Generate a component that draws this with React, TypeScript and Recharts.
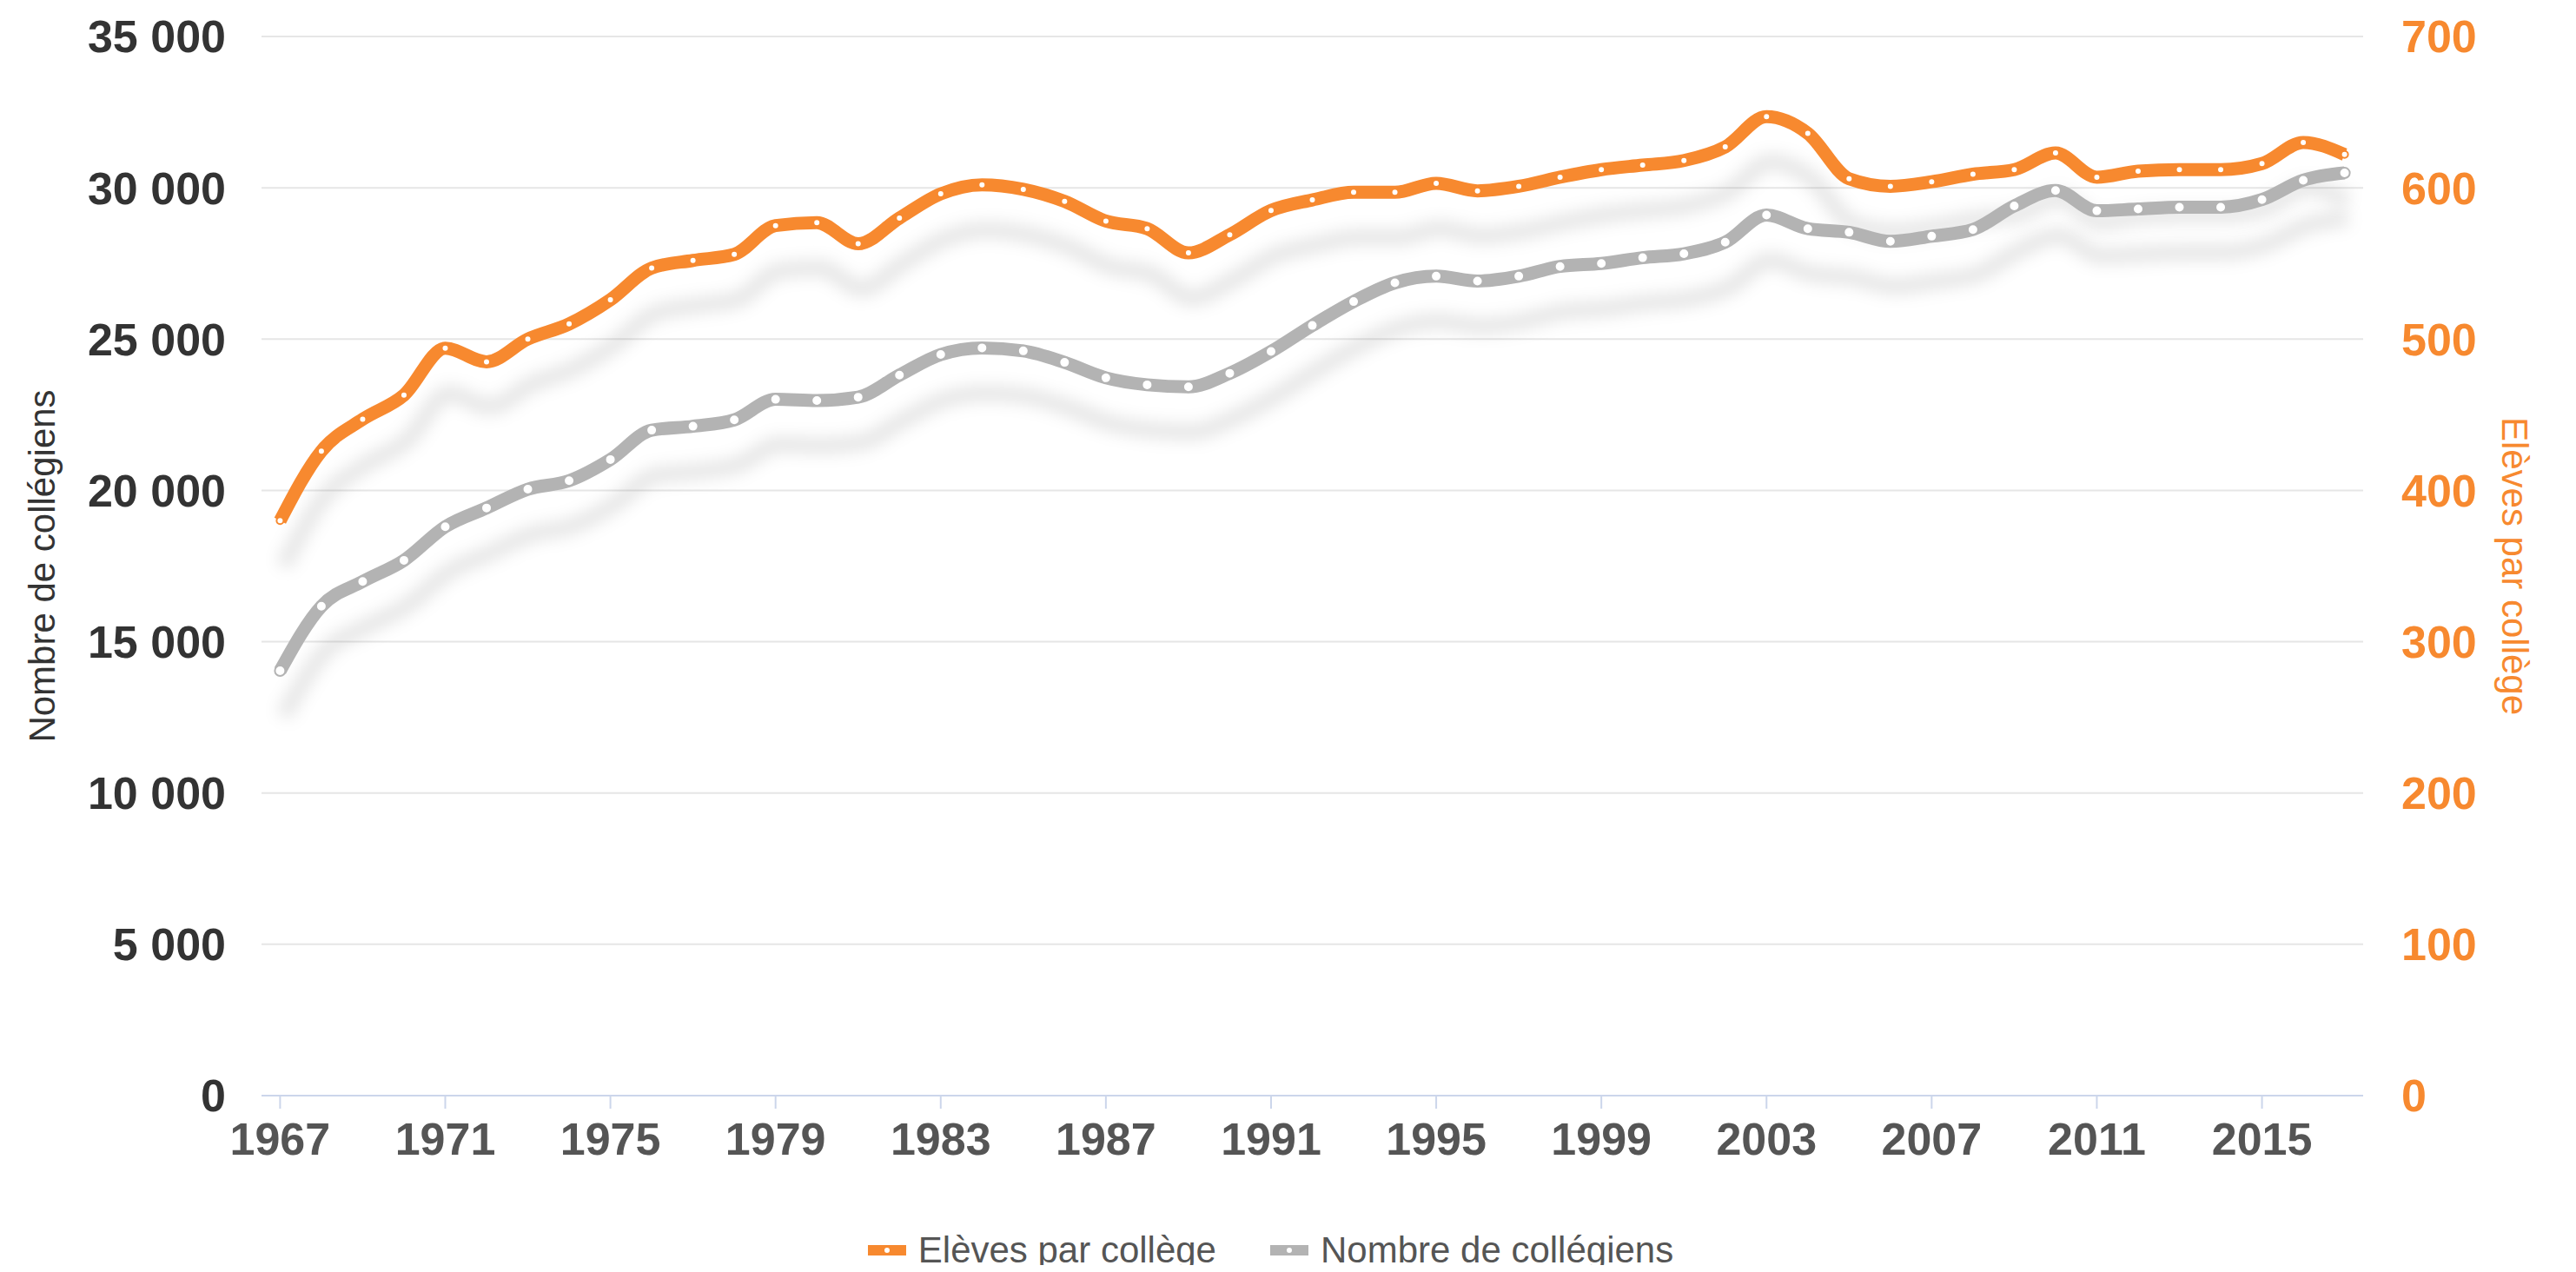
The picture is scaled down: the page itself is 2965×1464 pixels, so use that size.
import { LineChart, Line, XAxis, YAxis, CartesianGrid, Legend } from 'recharts';

const years = [
  1967, 1968, 1969, 1970, 1971, 1972, 1973, 1974, 1975, 1976, 1977, 1978, 1979,
  1980, 1981, 1982, 1983, 1984, 1985, 1986, 1987, 1988, 1989, 1990, 1991, 1992,
  1993, 1994, 1995, 1996, 1997, 1998, 1999, 2000, 2001, 2002, 2003, 2004, 2005,
  2006, 2007, 2008, 2009, 2010, 2011, 2012, 2013, 2014, 2015, 2016, 2017,
];

// Elèves par collège (axe de droite)
const elevesParCollege = [
  380, 426, 447, 463, 494, 485, 500, 510, 526, 547, 552, 556, 575,
  577, 563, 580, 596, 602, 599, 591, 578, 573, 557, 569, 585, 592,
  597, 597, 603, 598, 601, 607, 612, 615, 618, 627, 647, 636, 606,
  601, 604, 609, 612, 623, 607, 611, 612, 612, 616, 630, 622,
];

// Nombre de collégiens (axe de gauche)
const nombreCollegiens = [
  14040, 16170, 16990, 17690, 18800, 19420, 20040, 20320, 21020, 21990, 22120, 22330, 23010,
  22970, 23080, 23810, 24490, 24710, 24610, 24230, 23720, 23490, 23420, 23870, 24590, 25450,
  26240, 26860, 27080, 26920, 27080, 27400, 27500, 27690, 27820, 28200, 29100, 28650, 28530,
  28230, 28400, 28620, 29400, 29910, 29240, 29300, 29360, 29360, 29610, 30250, 30490,
];

const yearTicks = [1967, 1971, 1975, 1979, 1983, 1987, 1991, 1995, 1999, 2003, 2007, 2011, 2015];
const leftTicks = [0, 5000, 10000, 15000, 20000, 25000, 30000, 35000];
const leftTickLabels = ['0', '5 000', '10 000', '15 000', '20 000', '25 000', '30 000', '35 000'];
const rightTicks = [0, 100, 200, 300, 400, 500, 600, 700];

const legendNames = ['Elèves par collège', 'Nombre de collégiens'];

const ORANGE = '#f7892f';
const GREY = '#b3b3b3';
const FONT = '"Liberation Sans", Arial, Helvetica, sans-serif';

const data = years.map((year, i) => ({
  year,
  eleves: elevesParCollege[i],
  collegiens: nombreCollegiens[i],
}));

function LeftTitle(props: any) {
  const vb = props.viewBox;
  const cx = vb.x + 40;
  const cy = vb.y + vb.height / 2;
  return (
    <text
      x={cx}
      y={cy}
      transform={`rotate(-90, ${cx}, ${cy})`}
      textAnchor="middle"
      dominantBaseline="central"
      fontFamily={FONT}
      fontSize={42}
      fill="#333"
    >
      Nombre de collégiens
    </text>
  );
}

function RightTitle(props: any) {
  const vb = props.viewBox;
  const cx = vb.x + 174;
  const cy = vb.y + vb.height / 2;
  return (
    <text
      x={cx}
      y={cy}
      transform={`rotate(90, ${cx}, ${cy})`}
      textAnchor="middle"
      dominantBaseline="central"
      fontFamily={FONT}
      fontSize={42}
      fill={ORANGE}
    >
      Elèves par collège
    </text>
  );
}

function LegendContent() {
  const colors = [ORANGE, GREY];
  return (
    <div
      style={{
        display: 'flex',
        justifyContent: 'center',
        alignItems: 'center',
        height: 34,
        fontFamily: FONT,
        fontSize: 42,
        color: '#555',
        paddingRight: 20,
      }}
    >
      {legendNames.map((name, i) => (
        <div key={name} style={{ display: 'flex', alignItems: 'center', marginLeft: i > 0 ? 62 : 0 }}>
          <svg width={44} height={20} style={{ marginRight: 14 }}>
            <line x1={0} y1={10} x2={44} y2={10} stroke={colors[i]} strokeWidth={12} />
            <circle cx={22} cy={10} r={4} fill="#fff" stroke={colors[i]} strokeWidth={2} />
          </svg>
          <span style={{ lineHeight: '34px' }}>{name}</span>
        </div>
      ))}
    </div>
  );
}

export default function App() {
  return (
    <LineChart
      width={2949}
      height={1448}
      data={data}
      margin={{ top: 34, right: 20, bottom: 0, left: 0 }}
    >
      <defs>
        <filter id="lineShadow" filterUnits="userSpaceOnUse" x="0" y="0" width="2949" height="1448">
          <feGaussianBlur stdDeviation="9" />
          <feOffset dx="4" dy="52" />
        </filter>
      </defs>
      <CartesianGrid yAxisId="left" vertical={false} stroke="#e6e6e6" strokeWidth={2} />
      <XAxis
        dataKey="year"
        type="number"
        domain={[1966.55, 2017.45]}
        ticks={yearTicks}
        allowDataOverflow
        height={161}
        tickSize={15}
        tickMargin={16}
        axisLine={{ stroke: '#ccd6eb', strokeWidth: 2 }}
        tickLine={{ stroke: '#ccd6eb', strokeWidth: 2 }}
        tick={{ fill: '#555', fontSize: 52, fontWeight: 700, fontFamily: FONT }}
      />
      <YAxis
        yAxisId="left"
        domain={[0, 35000]}
        ticks={leftTicks}
        width={293}
        tickSize={0}
        tickMargin={41}
        axisLine={false}
        tickLine={false}
        tickFormatter={(v: number) => leftTickLabels[leftTicks.indexOf(v)]}
        tick={{ fill: '#333', fontSize: 52, fontWeight: 700, fontFamily: FONT }}
        label={LeftTitle}
      />
      <YAxis
        yAxisId="right"
        orientation="right"
        domain={[0, 700]}
        ticks={rightTicks}
        width={217}
        tickSize={0}
        tickMargin={44}
        axisLine={false}
        tickLine={false}
        tick={{ fill: ORANGE, fontSize: 52, fontWeight: 700, fontFamily: FONT }}
        label={RightTitle}
      />
      <Legend verticalAlign="bottom" height={34} content={LegendContent} />
      <Line
        yAxisId="right"
        dataKey="eleves"
        type="monotone"
        stroke="#000"
        strokeOpacity={0.1}
        strokeWidth={18}
        dot={false}
        activeDot={false}
        legendType="none"
        filter="url(#lineShadow)"
        isAnimationActive={false}
      />
      <Line
        yAxisId="right"
        dataKey="eleves"
        name="Elèves par collège"
        type="monotone"
        stroke={ORANGE}
        strokeWidth={15}
        dot={{ r: 4, fill: '#fff', stroke: ORANGE, strokeWidth: 2 }}
        isAnimationActive={false}
      />
      <Line
        yAxisId="left"
        dataKey="collegiens"
        type="monotone"
        stroke="#000"
        strokeOpacity={0.1}
        strokeWidth={18}
        dot={false}
        activeDot={false}
        legendType="none"
        filter="url(#lineShadow)"
        isAnimationActive={false}
      />
      <Line
        yAxisId="left"
        dataKey="collegiens"
        name="Nombre de collégiens"
        type="monotone"
        stroke={GREY}
        strokeWidth={15}
        dot={{ r: 6, fill: '#fff', stroke: GREY, strokeWidth: 2 }}
        isAnimationActive={false}
      />
    </LineChart>
  );
}
